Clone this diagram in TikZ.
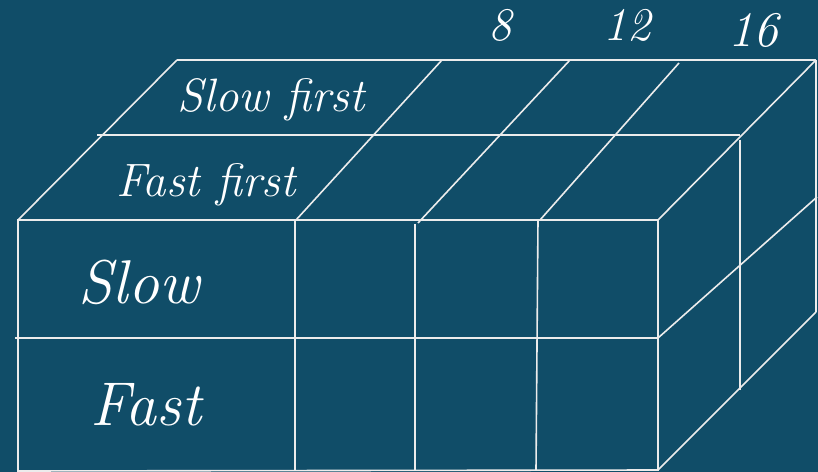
\documentclass[tikz,border=0pt]{standalone}
\usepackage{fontspec}
\definecolor{bgc}{RGB}{16,77,104}
\definecolor{lnc}{RGB}{236,236,236}
\begin{document}
\begin{tikzpicture}[x=1bp,y=-1bp,
  edge/.style={draw=lnc,line width=1.6bp},
  lbl/.style={text=white,anchor=base,inner sep=0pt,font=\itshape\fontsize{47}{56}\selectfont},
  biglbl/.style={text=white,anchor=base,inner sep=0pt,font=\itshape\fontsize{62}{72}\selectfont}]
\fill[bgc] (0,0) rectangle (818,472);
\useasboundingbox (0,0) rectangle (818,472);
% front face corners
\coordinate (fa) at (18,220); \coordinate (fb) at (295,220); \coordinate (fc) at (415,224);
\coordinate (fd) at (538,220); \coordinate (fe) at (658,220);
\coordinate (ga) at (18,471); \coordinate (gb) at (295,470); \coordinate (gc) at (415,470);
\coordinate (gd) at (536,470); \coordinate (ge) at (658,470);
\coordinate (ma) at (15,338); \coordinate (me) at (658,338);
% top face
\coordinate (ta) at (177,60); \coordinate (tb) at (442,60); \coordinate (tc) at (570,60);
\coordinate (td) at (679,63); \coordinate (te) at (816,60);
\coordinate (sa) at (97,135); \coordinate (se) at (740,135);
\coordinate (ob) at (296,220); \coordinate (oc) at (418,223); \coordinate (od) at (540,220);
% right face
\coordinate (ra) at (740,140); \coordinate (rb) at (740,390);
\coordinate (rc) at (816,312); \coordinate (rd) at (817,197);
% front grid
\draw[edge] (fa) -- (fe) -- (ge) -- (ga) -- cycle;
\draw[edge] (ma) -- (me);
\draw[edge] (fb) -- (gb);
\draw[edge] (fc) -- (gc);
\draw[edge] (fd) -- (gd);
% top face
\draw[edge] (ta) -- (te);
\draw[edge] (sa) -- (se);
\draw[edge] (fa) -- (ta);
\draw[edge] (ob) -- (tb);
\draw[edge] (oc) -- (tc);
\draw[edge] (od) -- (td);
\draw[edge] (fe) -- (te);
% right face
\draw[edge] (te) -- (rc);
\draw[edge] (ra) -- (rb);
\draw[edge] (me) -- (rd);
\draw[edge] (ge) -- (rc);
% labels
\node[lbl] (n8) at (500,41) {8};
\node[lbl] (n12) at (627,41) {12};
\node[lbl,font=\itshape\fontsize{50}{58}\selectfont] (n16) at (753,47) {16};
\node[lbl] (sf) at (271,112) {Slow first};
\node[lbl] (ff) at (206,197) {Fast first};
\node[biglbl] (sl) at (139,304) {Slow};
\node[biglbl] (fs) at (146,425) {Fast};
\end{tikzpicture}
\end{document}
